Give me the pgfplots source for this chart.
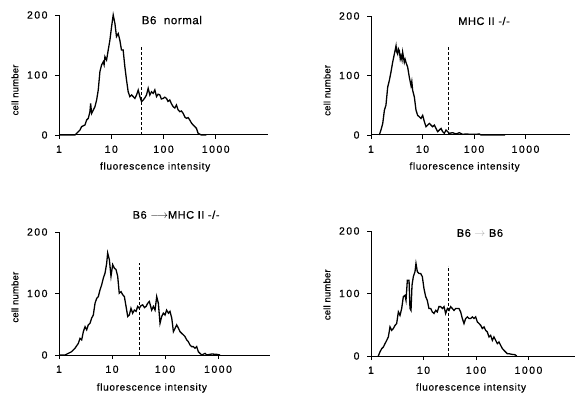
\documentclass[border=0pt]{standalone}
\usepackage{fontspec}
\setmainfont{Liberation Sans}
\newfontfamily\tickfont{Liberation Sans}[LetterSpace=14, FakeBold=0.5]
\newfontfamily\labfont{Liberation Sans}[LetterSpace=7, FakeBold=0.4]
\newfontfamily\ylabfont{Liberation Sans}[LetterSpace=2, FakeBold=0.4]
\newfontfamily\ttlfont{Liberation Sans}[LetterSpace=5, FakeBold=0.5]
\usepackage{pgfplots}
\pgfplotsset{compat=1.18}
\pgfplotsset{
  every axis/.append style={
    scale only axis,
    ymin=0, ymax=200,
    axis x line*=bottom, axis y line*=left,
    xtick={1,10,100,1000}, xticklabels={1,10,100,1000},
    ytick={0,100,200}, yticklabels={0,100,200},
    tick align=outside, major tick length=4pt,
    tick style={black, line width=0.8pt},
    axis line style={black, line width=1pt},
    ticklabel style={font=\tickfont\fontsize{10.5}{12}\selectfont},
    xticklabel style={yshift=-3pt},
    yticklabel style={xshift=-4pt},
    xlabel={fluorescence intensity},
    ylabel={cell number},
    clip=false,
  },
}
\begin{document}
\begin{tikzpicture}
\fill[white] (0,0) rectangle (575pt,396pt);
\useasboundingbox (0,0) rectangle (575pt,396pt);

% Panel 1: B6 normal
\begin{axis}[xmode=log, xmin=1, xmax=10000, xminorticks=false, anchor=south west,
  at={(59pt,261pt)}, width=209pt, height=120pt,
  xlabel style={font=\labfont\fontsize{10}{12}\selectfont, at={(axis description cs:0.46,0)}, anchor=center, yshift=-32pt},
  ylabel style={font=\ylabfont\fontsize{9.5}{11}\selectfont, at={(axis description cs:-0.2105,0.375)}, anchor=center}]
\addplot[black, line width=1.3pt, sharp plot, mark=none] coordinates {(1,0) (2.02,0) (2.18,2.8) (2.52,8.3) (2.71,13.9) (3.14,16.7) (3.38,25) (3.64,27.8) (3.91,38.9) (4.03,52.8) (4.21,36.1) (4.88,47.2) (5.25,58.3) (5.64,75) (6.07,105.6) (6.53,116.7) (7.03,122) (7.3,117) (7.57,130.6) (8.14,125) (8.76,141.7) (9.43,158.3) (10.15,180.6) (10.9,200) (11.75,186) (12.6,164) (13.6,169) (14.6,158) (15.7,141.7) (16.9,141.7) (18.2,114) (19.6,91.7) (21.1,72) (22.7,64) (24.5,66.7) (26.3,64) (28.3,61) (30.5,66.7) (32.8,75) (35.3,64) (38.0,55.6) (40.9,58.3) (44,62) (47.3,66.7) (50.9,77.8) (54.8,66.7) (59.0,72) (63.5,69.4) (68.3,75) (73.5,64) (79,68) (85.1,66.7) (91,60) (98.6,61) (106,63) (114,61) (122,56) (132,58.3) (142,52) (153,47.2) (165,45) (177,50) (190,42) (205,38.9) (220,40) (238,36.1) (256,30) (275,27.8) (296,29) (318,25) (343,20) (369,16.7) (397,14) (427,11.1) (460,2.8) (532,0) (663,0)};
\addplot[black, line width=1pt, dash pattern=on 3pt off 2pt, mark=none] coordinates {(38,0) (38,150)};
\node[font=\ttlfont\fontsize{11.5}{13}\selectfont] at (rel axis cs:0.54,0.958) {B6\ \ normal};
\end{axis}

% Panel 2: MHC II -/-
\begin{axis}[xmode=log, xmin=1, xmax=7310, xminorticks=false, anchor=south west,
  at={(371pt,261pt)}, width=199pt, height=119pt,
  xlabel style={font=\labfont\fontsize{10}{12}\selectfont, at={(axis description cs:0.47,0)}, anchor=center, yshift=-32pt},
  ylabel style={font=\ylabfont\fontsize{9.5}{11}\selectfont, at={(axis description cs:-0.221,0.375)}, anchor=center}]
\addplot[black, line width=1.3pt, sharp plot, mark=none] coordinates {(1.45,0) (1.56,8.3) (1.69,19.4) (1.82,41.7) (1.95,50) (2.11,80.6) (2.27,91.7) (2.44,105.6) (2.63,122) (2.84,136) (3.06,150) (3.15,140) (3.29,136) (3.4,145) (3.55,141.7) (3.7,128) (3.83,133) (4.0,126) (4.12,139) (4.44,122) (4.6,127) (4.78,122) (5.15,114) (5.55,97) (5.98,83) (6.2,90) (6.44,75) (6.94,64) (7.48,41.7) (8.05,33) (8.68,30.6) (9.35,27.8) (10.07,33) (10.9,22) (11.7,13.9) (12.6,16.7) (13.6,19.4) (14.6,16.7) (15.7,13.9) (17.0,16.7) (18.3,11.1) (19.7,5.6) (21.2,8.3) (22.9,11.1) (24.6,5.6) (26.5,2.8) (28.6,8.3) (33.2,2.8) (38.5,3.9) (44.7,1.7) (51.9,3.9) (60.3,1.1) (70.0,1.7) (87.5,1.1) (109,1.1) (127,1.7) (137,0) (400,0)};
\addplot[black, line width=1pt, dash pattern=on 3pt off 2pt, mark=none] coordinates {(32,0) (32,150)};
\node[font=\ttlfont\fontsize{11}{13}\selectfont] at (rel axis cs:0.568,0.958) {MHC II -/-};
\end{axis}

% Panel 3: B6 -> MHC II -/-
\begin{axis}[xmode=log, xmin=1, xmax=9560, xminorticks=false, anchor=south west,
  at={(59pt,41pt)}, width=211pt, height=123pt,
  xlabel style={font=\labfont\fontsize{10}{12}\selectfont, at={(axis description cs:0.44,0)}, anchor=center, yshift=-33pt},
  ylabel style={font=\ylabfont\fontsize{9.5}{11}\selectfont, at={(axis description cs:-0.2085,0.47)}, anchor=center}]
\addplot[black, line width=1.3pt, sharp plot, mark=none] coordinates {(1,0) (1.30,0) (1.50,2.7) (1.73,5.4) (2.00,10.9) (2.32,19) (2.49,27) (2.68,24.5) (2.88,38) (3.10,46) (3.33,41) (3.57,49) (3.85,51.6) (4.13,60) (4.44,65) (4.78,84) (5.14,92) (5.52,95) (5.94,106) (6.38,114) (6.86,125) (7.38,133) (7.93,149) (8.28,166) (8.91,155) (9.57,128) (10.3,147) (11.1,141) (11.9,139) (12.8,128) (13.7,100.5) (14.8,103) (15.9,98) (17.1,95) (18.4,79) (19.8,62.5) (21.2,65) (22.8,76) (24.5,68) (26.4,73) (28.4,71) (30.5,79) (32.8,76) (35,80) (37.9,81.5) (41,77) (43.9,79) (47,84) (50.6,87) (56.0,73) (60.3,79) (64.8,73) (69.7,95) (74.9,84) (80.5,51.6) (86.5,62.5) (93.1,68) (100,65) (107,73) (116,68) (124,71) (134,60) (144,38) (155,43.5) (166,49) (179,43.5) (192,38) (222,32.6) (238,30) (257,24.5) (275,21.7) (296,16.3) (319,13.6) (343,13.6) (368,10.9) (396,13.6) (425,5.4) (457,2.7) (492,0) (569,2.7) (611,0) (760,1.6) (944,1.1) (1096,0)};
\addplot[black, line width=1pt, dash pattern=on 3pt off 2pt, mark=none] coordinates {(32.8,0) (32.8,150)};
\node[font=\ttlfont\fontsize{11}{13}\selectfont] at (rel axis cs:0.555,1.14) {B6 $\longrightarrow$MHC II -/-};
\end{axis}

% Panel 4: B6 -> B6
\begin{axis}[xmode=log, xmin=1, xmax=7690, xminorticks=false, anchor=south west,
  at={(371pt,40pt)}, width=204pt, height=125pt,
  xlabel style={font=\labfont\fontsize{10}{12}\selectfont, at={(axis description cs:0.49,0)}, anchor=center, yshift=-32pt},
  ylabel style={font=\ylabfont\fontsize{9.5}{11}\selectfont, at={(axis description cs:-0.2157,0.49)}, anchor=center}]
\addplot[black, line width=1.3pt, sharp plot, mark=none] coordinates {(1.38,0) (1.48,6.4) (1.60,11.8) (1.72,14.4) (1.85,19.8) (1.99,25) (2.14,30.5) (2.30,46.5) (2.48,41) (2.66,43.9) (2.87,49) (3.08,52) (3.32,70.6) (3.57,65) (3.84,76) (4.13,95) (4.44,97) (4.64,89) (4.92,121) (5.30,121) (5.53,76) (5.78,73) (6.04,113) (6.40,127) (6.89,135) (7.19,148) (7.63,135) (8.21,132) (8.83,132) (9.50,127) (10.2,108) (11.0,95) (11.8,89) (12.7,76) (13.7,76) (14.7,70.6) (15.8,68) (17.1,73) (18.3,70.6) (19.7,79) (21.2,79) (22.9,76) (24.6,79) (26.4,68) (28.5,76) (30.6,73) (32.9,79) (35.4,76) (38.1,73) (41.0,76) (47.4,76) (51.0,70.6) (54.9,60) (59.1,52) (63.6,60) (68.4,62.6) (73.6,60) (79.1,60) (85.2,62.6) (91.6,60) (98.6,62.6) (106,54.5) (114,52) (123,49) (132,44) (142,46.5) (153,41) (164,38.5) (177,30.5) (190,33) (205,25) (220,30.5) (237,25) (255,19.8) (274,22.5) (295,17) (318,11.8) (342,9) (367,6.4) (395,3.7) (425,3.7) (478,2.7) (553,2.1) (595,0)};
\addplot[black, line width=1pt, dash pattern=on 3pt off 2pt, mark=none] coordinates {(30,0) (30,144)};
\node[font=\ttlfont\fontsize{11}{13}\selectfont] at (rel axis cs:0.534,0.984) {B6 \textcolor{black!30}{$\rightarrow$} B6};
\end{axis}
\end{tikzpicture}
\end{document}
